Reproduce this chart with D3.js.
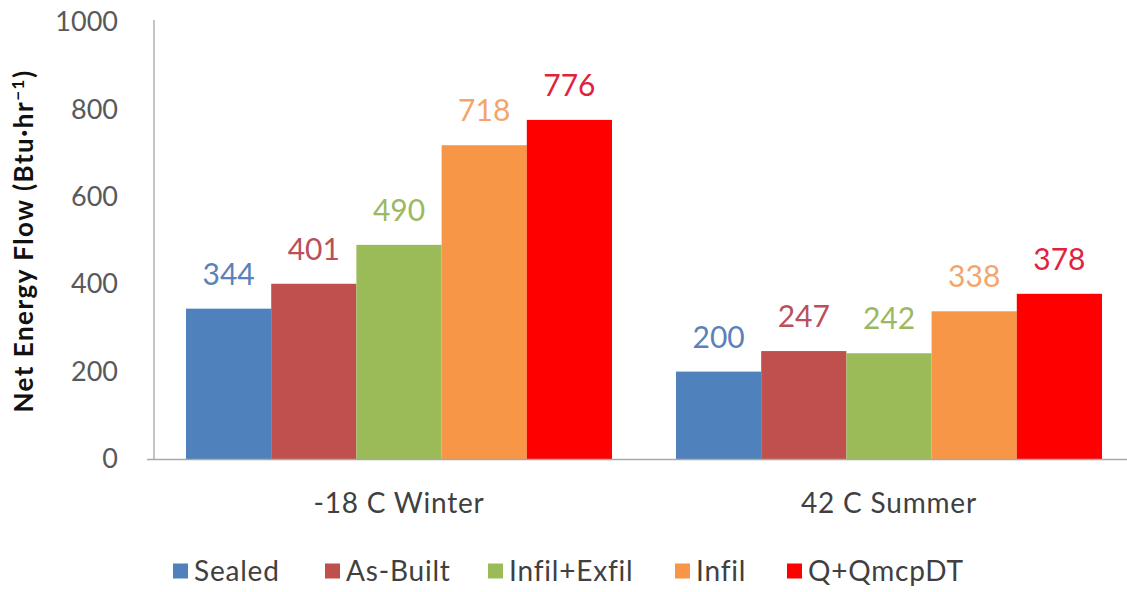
<!DOCTYPE html>
<html><head><meta charset="utf-8">
<script src="https://cdn.jsdelivr.net/npm/d3@7"></script>
<style>body{margin:0;background:#fff}svg{display:block}text{font-family:Lato,"Open Sans",sans-serif}</style>
</head><body><svg id="c" width="1127" height="592"></svg>
<script>
const categories = ["-18 C Winter", "42 C Summer"];
const series = ["Sealed", "As-Built", "Infil+Exfil", "Infil", "Q+QmcpDT"];
const winterValues = [344, 401, 490, 718, 776];
const summerValues = [200, 247, 242, 338, 378];
const yTicks = [0, 200, 400, 600, 800, 1000];
const barColors = ["#4f81bd", "#c0504d", "#9bbb59", "#f79646", "#ff0000"];
const labelColors = ["#5b82b8", "#b9505c", "#9bb862", "#f2a66c", "#e0233c"];

const valuesByCat = [winterValues, summerValues];
const svg = d3.select("#c");
const x0 = d3.scaleBand().domain(categories).range([154, 1134]).padding(0);
const x1 = d3.scaleBand().domain(series).range([32, 458]).padding(0);
const y = d3.scaleLinear().domain([0, 1000]).range([459, 22]);
const color = d3.scaleOrdinal().domain(series).range(barColors);
const lcolor = d3.scaleOrdinal().domain(series).range(labelColors);

// y axis
const ya = svg.append("g").attr("transform", "translate(154,0)")
  .call(d3.axisLeft(y).tickValues(yTicks).tickSize(0).tickSizeOuter(0).tickPadding(36).tickFormat(d3.format("d")));
ya.select(".domain").attr("stroke", "#b0b0b0").attr("stroke-width", 1.5).attr("d", "M0,20V459");
ya.selectAll("text").attr("font-size", 27).attr("fill", "#595959").attr("font-family", "Lato");

// bars
const groups = svg.append("g").selectAll("g").data(categories).join("g")
  .attr("transform", d => `translate(${x0(d)},0)`);
groups.each(function(cat, ci) {
  const g = d3.select(this);
  const data = series.map((s, i) => ({s, v: valuesByCat[ci][i]}));
  g.selectAll("rect").data(data).join("rect")
    .attr("x", d => x1(d.s)).attr("width", x1.bandwidth())
    .attr("y", d => y(d.v)).attr("height", d => y(0) - y(d.v))
    .attr("fill", d => color(d.s));
  g.selectAll("text.lbl").data(data).join("text").attr("class", "lbl")
    .attr("x", d => x1(d.s) + x1.bandwidth() / 2).attr("y", d => y(d.v) - 24)
    .attr("text-anchor", "middle").attr("font-size", 30).attr("fill", d => lcolor(d.s))
    .text(d => d.v);
});

// baseline + x axis labels
svg.append("line").attr("x1", 147).attr("x2", 1127).attr("y1", 459.5).attr("y2", 459.5)
  .attr("stroke", "#a8a8a8").attr("stroke-width", 1.5);
const xa = svg.append("g").attr("transform", "translate(0,459)")
  .call(d3.axisBottom(x0).tickSize(0).tickPadding(34));
xa.select(".domain").remove();
xa.selectAll("text").attr("font-size", 28).attr("letter-spacing", 0.8).attr("fill", "#404040").attr("font-family", "Lato");

// y title
svg.append("text").attr("transform", "translate(33,241) rotate(-90)")
  .attr("text-anchor", "middle").attr("font-size", 26).attr("letter-spacing", 1.5).attr("font-weight", "bold").attr("fill", "#111")
  .html('Net Energy Flow (Btu·hr<tspan dy="-9" font-size="17">−1</tspan><tspan dy="9">)</tspan>');

// legend
const legendX = [173, 325, 488, 675, 787];
const lg = svg.append("g").selectAll("g").data(series).join("g")
  .attr("transform", (d, i) => `translate(${legendX[i]},571)`);
lg.append("rect").attr("x", 0).attr("y", -7.5).attr("width", 15).attr("height", 15).attr("fill", d => color(d));
lg.append("text").attr("x", 21).attr("y", 0).attr("dy", "0.36em").attr("font-size", 28).attr("letter-spacing", 0.8).attr("fill", "#404040").text(d => d);
</script></body></html>
